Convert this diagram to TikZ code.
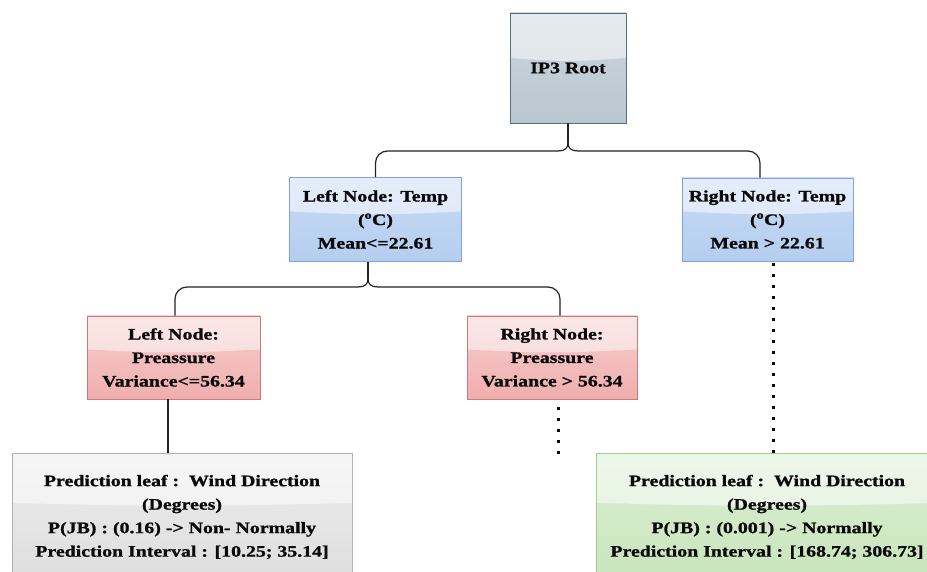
\documentclass[tikz,border=0pt]{standalone}
\usepackage{fontspec}
\setmainfont{Liberation Serif}[FakeStretch=1.24, BoldFeatures={FakeBold=1.2}]
\usetikzlibrary{calc}

\definecolor{ink}{HTML}{0A0A0A}
\definecolor{wire}{HTML}{222222}
% root (slate)
\definecolor{rootA}{HTML}{CCD6DE}\definecolor{rootB}{HTML}{B9C7D1}\definecolor{rootE}{HTML}{55707F}
% blue split nodes
\definecolor{blueA}{HTML}{C9DBF5}\definecolor{blueB}{HTML}{B5CDEF}\definecolor{blueE}{HTML}{7EA3DA}
% red split nodes
\definecolor{redA}{HTML}{F7CFCF}\definecolor{redB}{HTML}{F0AEAE}\definecolor{redE}{HTML}{CF7A78}
% leaves
\definecolor{grayA}{HTML}{ECECEC}\definecolor{grayB}{HTML}{DEDEDE}\definecolor{grayE}{HTML}{B0B0B0}
\definecolor{greenA}{HTML}{DDEED5}\definecolor{greenB}{HTML}{C8E5BB}\definecolor{greenE}{HTML}{A3CC8C}

\newcommand\glossup{8pt}
\tikzset{
  glossup/.store in=\glossup,
  glassbox/.style n args={3}{
    draw=#3, line width=0.9pt, top color=#1, bottom color=#2,
    align=center, text=ink, inner sep=0pt,
    font=\bfseries\fontsize{16}{23.5}\selectfont,
    path picture={
      \fill[white, fill opacity=0.5]
        (path picture bounding box.north west) -- (path picture bounding box.north east)
        -- ([yshift=\glossup]path picture bounding box.east)
        .. controls ([yshift=\glossup-4pt]path picture bounding box.center)
        .. ([yshift=\glossup]path picture bounding box.west) -- cycle;
    }},
  conn/.style={draw=wire, line width=1.2pt},
  dots/.style={draw=ink, line width=3pt, line cap=butt, dash pattern=on 3pt off 8pt},
}

\begin{document}
\begin{tikzpicture}[x=1pt, y=-1pt]
\useasboundingbox[fill=white] (0,0) rectangle (927,572);

% decision nodes
\node[glassbox={rootA}{rootB}{rootE}, glossup=10pt, minimum width=116pt, minimum height=110pt]
  (root) at (568,68) {IP3 Root};
\node[glassbox={blueA}{blueB}{blueE}, minimum width=172pt, minimum height=84pt]
  (lt) at (375.5,219.5) {Left Node: Temp\\(\textsuperscript{o}C)\\Mean<=22.61};
\node[glassbox={blueA}{blueB}{blueE}, minimum width=171pt, minimum height=83pt]
  (rt) at (767.5,219.5) {Right Node: Temp\\(\textsuperscript{o}C)\\Mean > 22.61};
\node[glassbox={redA}{redB}{redE}, minimum width=173pt, minimum height=83pt]
  (lp) at (173.5,357.5) {Left Node:\\Preassure\\Variance<=56.34};
\node[glassbox={redA}{redB}{redE}, minimum width=170pt, minimum height=83pt]
  (rp) at (552,357.5) {Right Node:\\Preassure\\Variance > 56.34};

% prediction leaves
\node[glassbox={grayA}{grayB}{grayE}, glossup=14pt, minimum width=340pt, minimum height=128pt]
  (ll) at (182,517) {Prediction leaf :\ \ Wind Direction\\(Degrees)\\P(JB) : (0.16) -> Non- Normally\\Prediction Interval : [10.25; 35.14]};
\node[glassbox={greenA}{greenB}{greenE}, glossup=14pt, minimum width=342pt, minimum height=128pt]
  (rl) at (767,517) {Prediction leaf :\ \ Wind Direction\\(Degrees)\\P(JB) : (0.001) -> Normally\\Prediction Interval : [168.74; 306.73]};

% brace from the root to the temperature nodes
\coordinate (t1) at (568,143);
\coordinate (l1) at (558,151);
\coordinate (r1) at (578,151);
\draw[conn] (root.south) -- (t1);
\draw[conn] (l1) .. controls (565,151) and (568,148) .. (t1);
\draw[conn] (r1) .. controls (571,151) and (568,148) .. (t1);
\draw[conn, rounded corners=12pt] (lt.north) |- (l1);
\draw[conn, rounded corners=12pt] ([xshift=-7.5pt]rt.north) |- (r1);

% brace from the left temperature node to the pressure nodes
\coordinate (t2) at (368,279);
\coordinate (l2) at (358,287);
\coordinate (r2) at (378,287);
\draw[conn] ([xshift=-7.5pt]lt.south) -- (t2);
\draw[conn] (l2) .. controls (365,287) and (368,284) .. (t2);
\draw[conn] (r2) .. controls (371,287) and (368,284) .. (t2);
\draw[conn, rounded corners=12pt] ([xshift=1.5pt]lp.north) |- (l2);
\draw[conn, rounded corners=12pt] ([xshift=8pt]rp.north) |- (r2);

% pressure node to its leaf
\draw[conn] ([xshift=-5.5pt]lp.south) -- ([xshift=-5.5pt]lp.south |- ll.north);

% elided branches
\coordinate (rpend) at (558,454);
\coordinate (rtend) at (773,454);
\draw[dots] ([xshift=6pt,yshift=-7.5pt]rp.south) -- (rpend);
\draw[dots] ([xshift=5.5pt,yshift=-1.5pt]rt.south) -- (rtend);
\end{tikzpicture}
\end{document}
